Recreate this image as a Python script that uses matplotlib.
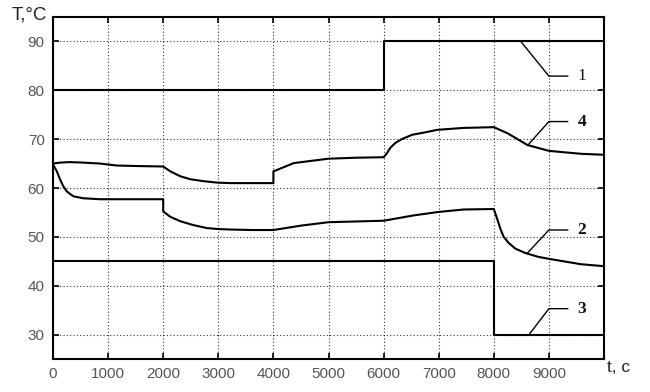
import matplotlib
matplotlib.use('Agg')
import matplotlib.pyplot as plt
import numpy as np

# curve 1 (step), curve 3 (step)
t1 = [0, 6000, 6000, 10000]
T1 = [80, 80, 90, 90]
t3 = [0, 8000, 8000, 10000]
T3 = [45, 45, 30, 30]

# curve 4
t4 = [0, 130, 310, 550, 855, 1160, 1500, 2000, 2130, 2310, 2490, 2730, 2980,
      3220, 3600, 4000, 4000, 4370, 5000, 5500, 6000, 6060, 6120, 6210, 6330,
      6520, 6760, 6970, 7450, 8000, 8250, 8610, 9000, 9580, 10000]
T4 = [65.0, 65.2, 65.3, 65.2, 65.0, 64.6, 64.5, 64.4, 63.4, 62.4, 61.8, 61.4, 61.1,
      61.0, 61.0, 61.0, 63.4, 65.1, 66.0, 66.2, 66.3, 67.1, 68.2, 69.2, 70.0,
      70.9, 71.4, 71.9, 72.3, 72.45, 71.2, 68.8, 67.6, 67.0, 66.8]

# curve 2
t2 = [0, 70, 130, 190, 250, 370, 550, 855, 1000, 1500, 2000, 2000, 2130, 2310,
      2550, 2790, 3000, 3220, 3600, 4000, 4500, 5000, 6000, 6550, 7000, 7450,
      8000, 8055, 8115, 8175, 8265, 8390, 8570, 8810, 9000, 9580, 10000]
T2 = [64.8, 63.4, 61.7, 60.3, 59.3, 58.3, 57.9, 57.7, 57.7, 57.7, 57.7, 55.2, 54.1, 53.2,
      52.4, 51.8, 51.6, 51.5, 51.4, 51.4, 52.3, 53.0, 53.3, 54.4, 55.1, 55.6,
      55.7, 53.9, 51.8, 50.1, 48.8, 47.6, 46.7, 45.9, 45.5, 44.4, 44.0]

xticks = [0, 1000, 2000, 3000, 4000, 5000, 6000, 7000, 8000, 9000]
yticks = [30, 40, 50, 60, 70, 80, 90]

# curve labels: text, start point on curve, elbow y
labels = ['1', '4', '2', '3']
lab_start = [(8490, 90), (8620, 68.8), (8620, 46.8), (8640, 30)]
lab_elbow_y = [82.9, 73.6, 51.4, 35.3]
lab_weight = ['normal', 'bold', 'bold', 'bold']

fig = plt.figure(figsize=(6.5, 3.92), dpi=100)
ax = fig.add_axes([53/650, 1-359/392, (604-53)/650, (359-17)/392])

for t, T in [(t1, T1), (t3, T3), (t4, T4), (t2, T2)]:
    ax.plot(t, T, color='black', lw=1.5, zorder=3)

ax.set_xlim(0, 10000)
ax.set_ylim(25, 95)
ax.set_xticks(xticks)
ax.set_yticks(yticks)
ax.grid(True, color='black', lw=0.8, ls=(0, (1, 2)), alpha=0.8)
ax.tick_params(direction='in', length=4, width=1.2, top=True, right=True,
               labelsize=11, labelcolor='#555555', pad=6)
for lab in ax.get_xticklabels() + ax.get_yticklabels():
    lab.set_family('Liberation Sans')
for s in ax.spines.values():
    s.set_linewidth(1.5)

for txt, (xs, ys), ye, w in zip(labels, lab_start, lab_elbow_y, lab_weight):
    ax.plot([xs, 9000, 9340], [ys, ye, ye], color='black', lw=1, zorder=4, clip_on=False)
    ax.text(9600, ye, txt, family='Liberation Serif', fontweight=w, fontsize=12.5,
            ha='center', va='center', color='#111111')

fig.text(12/650, 1-15/392, 'T,\u00b0C', family='Liberation Sans', fontsize=13.5,
         ha='left', va='center', color='#222222')
fig.text(607/650, 1-368/392, 't, c', family='Liberation Sans', fontsize=12.5,
         ha='left', va='center', color='#222222')

fig.savefig('out.png', dpi=100)
